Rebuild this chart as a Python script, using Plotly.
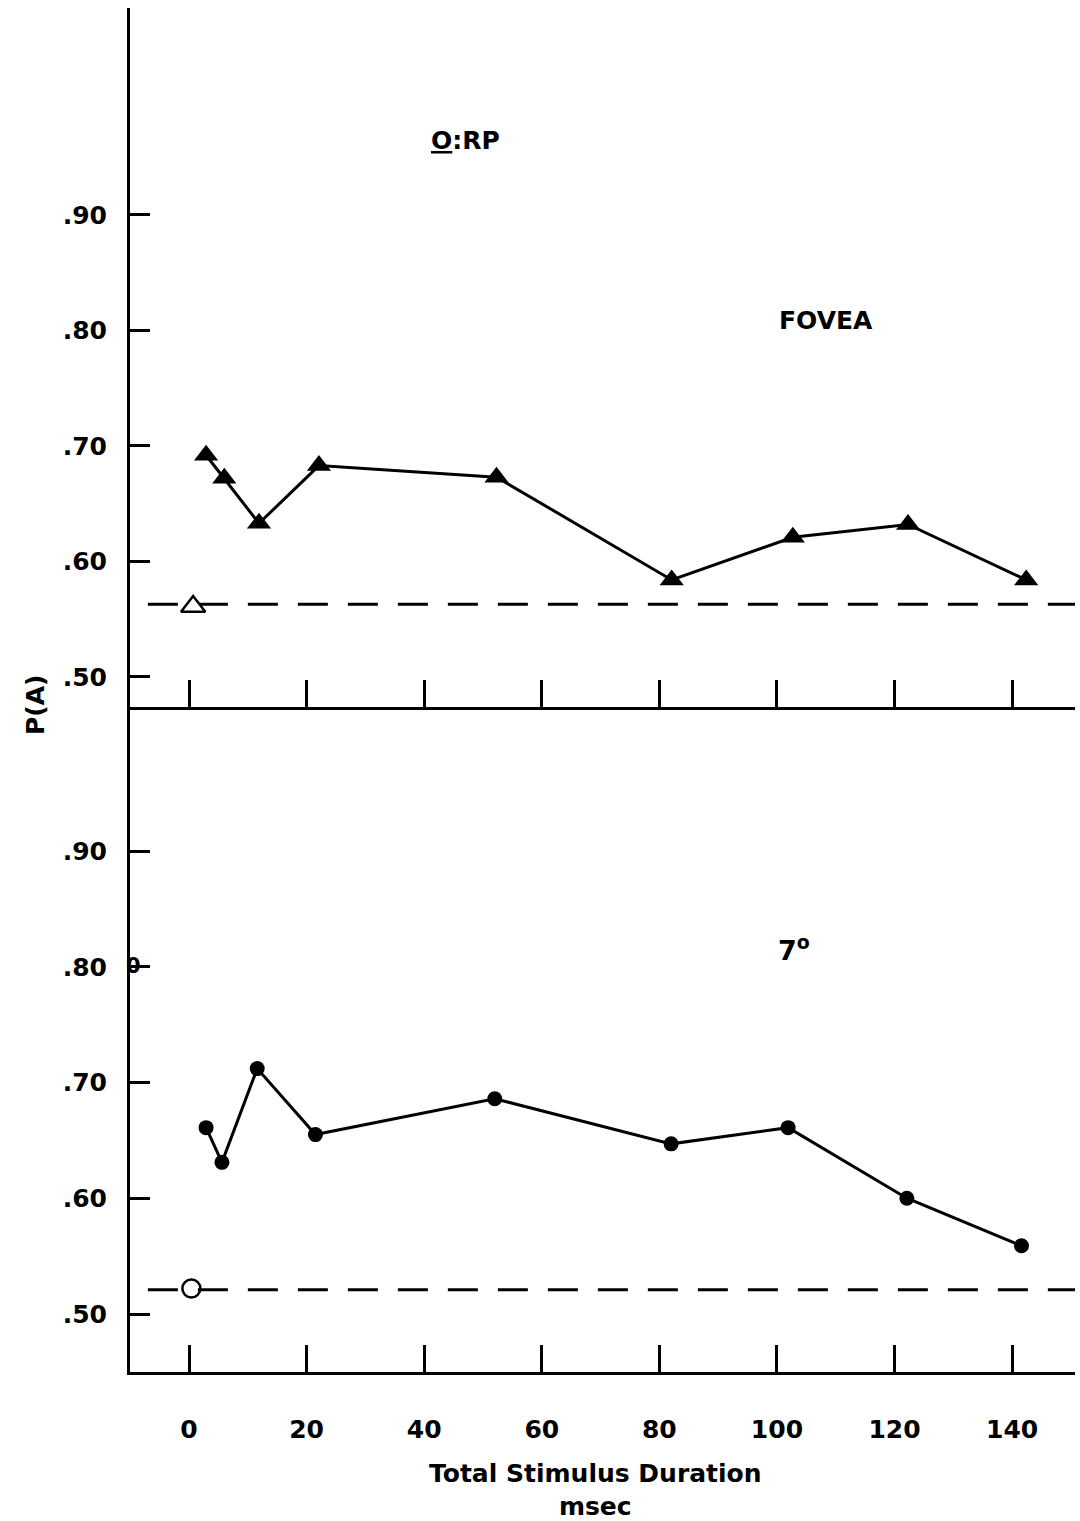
import plotly.graph_objects as go

# ---- data ----
fovea_x = [2.9, 6.0, 11.9, 22.1, 52.3, 82.1, 102.7, 122.3, 142.4]
fovea_y = [0.692, 0.672, 0.633, 0.683, 0.673, 0.584, 0.621, 0.632, 0.584]
fovea_open_x = [0.7]
fovea_open_y = [0.561]
fovea_chance = 0.563

periph_x = [2.9, 5.6, 11.6, 21.5, 52.0, 82.0, 101.9, 122.1, 141.6]
periph_y = [0.661, 0.631, 0.712, 0.655, 0.686, 0.647, 0.661, 0.600, 0.559]
periph_open_x = [0.4]
periph_open_y = [0.522]
periph_chance = 0.521

dash_x = [-7, 151]
x_ticks = [0, 20, 40, 60, 80, 100, 120, 140]
y_ticks = [0.50, 0.60, 0.70, 0.80, 0.90]
y_ticklabels = [".50", ".60", ".70", ".80", ".90"]

FONT = "DejaVu Sans"
H, W = 1521, 1080
ML, MR, MT, MB = 130, 5, 8, 149
pw = W - ML - MR
ph = H - MT - MB


def px_x(px):
    return (px - ML) / pw


def px_y(py):
    return (H - MB - py) / ph


fig = go.Figure()

# top panel (FOVEA) -> xaxis2 / yaxis2
fig.add_trace(go.Scatter(x=dash_x, y=[fovea_chance] * 2, mode="lines",
                         line=dict(color="black", width=3, dash="30px,20px"),
                         xaxis="x2", yaxis="y2", showlegend=False))
fig.add_trace(go.Scatter(x=fovea_x, y=fovea_y, mode="lines+markers",
                         line=dict(color="black", width=3),
                         marker=dict(symbol="triangle-up", size=21, color="black"),
                         xaxis="x2", yaxis="y2", showlegend=False))
fig.add_trace(go.Scatter(x=fovea_open_x, y=fovea_open_y, mode="markers",
                         marker=dict(symbol="triangle-up", size=21, color="white",
                                     line=dict(color="black", width=2.5)),
                         xaxis="x2", yaxis="y2", showlegend=False))

# bottom panel (7 deg) -> xaxis / yaxis
fig.add_trace(go.Scatter(x=dash_x, y=[periph_chance] * 2, mode="lines",
                         line=dict(color="black", width=3, dash="30px,20px"),
                         xaxis="x", yaxis="y", showlegend=False))
fig.add_trace(go.Scatter(x=periph_x, y=periph_y, mode="lines+markers",
                         line=dict(color="black", width=3),
                         marker=dict(symbol="circle", size=15, color="black"),
                         xaxis="x", yaxis="y", showlegend=False))
fig.add_trace(go.Scatter(x=periph_open_x, y=periph_open_y, mode="markers",
                         marker=dict(symbol="circle", size=18, color="rgba(0,0,0,0)",
                                     line=dict(color="black", width=2.5)),
                         xaxis="x", yaxis="y", showlegend=False))

split = 665 / ph
xrange = [-10.04, 150.7]
tickfont = dict(family=FONT, size=25, color="black", weight="bold")

common_x = dict(range=xrange, showline=True, linecolor="black", linewidth=3,
                ticks="inside", ticklen=27, tickwidth=3, tickcolor="black",
                tickvals=x_ticks, showgrid=False, zeroline=False)
common_y = dict(showline=True, linecolor="black", linewidth=3,
                ticks="inside", ticklen=20, tickwidth=3, tickcolor="black",
                tickvals=y_ticks, ticktext=y_ticklabels, showgrid=False,
                zeroline=False, tickfont=tickfont, ticklabelstandoff=15)

big = dict(family=FONT, size=25, color="black", weight="bold")

fig.update_layout(
    width=W, height=H,
    margin=dict(l=ML, r=MR, t=MT, b=MB),
    paper_bgcolor="white", plot_bgcolor="white",
    xaxis=dict(**common_x, anchor="y", domain=[0, 1], showticklabels=True,
               tickfont=tickfont, ticklabelstandoff=33,
               ticktext=[str(v) for v in x_ticks]),
    yaxis=dict(**common_y, anchor="x", domain=[0, split], range=[0.4499, 1.0244]),
    xaxis2=dict(**common_x, anchor="y2", domain=[0, 1], showticklabels=False),
    yaxis2=dict(**common_y, anchor="x2", domain=[split, 1], range=[0.474, 1.0792]),
    annotations=[
        dict(text="<b><u>O</u>:RP</b>", x=px_x(465), y=px_y(140), xref="paper", yref="paper",
             showarrow=False, font=big, xanchor="center", yanchor="middle"),
        dict(text="<b>FOVEA</b>", x=px_x(826), y=px_y(320), xref="paper", yref="paper",
             showarrow=False, font=big, xanchor="center", yanchor="middle"),
        dict(text="<b>7<sup>o</sup></b>", x=px_x(794), y=px_y(948), xref="paper", yref="paper",
             showarrow=False, font=dict(family=FONT, size=27, color="black", weight="bold"),
             xanchor="center", yanchor="middle"),
        dict(text="<b>0</b>", x=px_x(133), y=px_y(966), xref="paper", yref="paper",
             showarrow=False, font=dict(family=FONT, size=21, color="black", weight="bold"),
             xanchor="center", yanchor="middle"),
        dict(text="<b>P(A)</b>", x=px_x(35), y=px_y(705), xref="paper", yref="paper",
             showarrow=False, textangle=-90, font=big, xanchor="center", yanchor="middle"),
        dict(text="<b>Total Stimulus Duration<br>msec</b>", x=px_x(595), y=px_y(1490),
             xref="paper", yref="paper", showarrow=False, font=big,
             xanchor="center", yanchor="middle"),
    ],
)

fig.write_html("out.html")
